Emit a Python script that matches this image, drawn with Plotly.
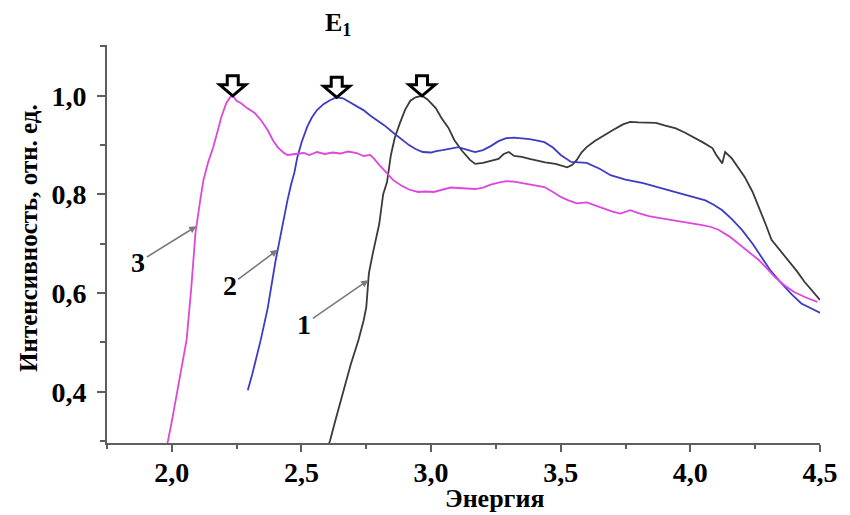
import numpy as np
import plotly.graph_objects as go

# --- spectra: photon energy and normalised intensity ---
e1 = [2.595, 2.61, 2.63, 2.66, 2.69, 2.72, 2.74, 2.75, 2.76, 2.775, 2.80, 2.815, 2.83,
      2.845, 2.86, 2.88, 2.90, 2.92, 2.94, 2.965, 2.985, 3.018, 3.04, 3.067, 3.09, 3.12,
      3.15, 3.17, 3.20, 3.23, 3.26, 3.28, 3.30, 3.32, 3.35, 3.38, 3.41, 3.44, 3.48, 3.525,
      3.545, 3.562, 3.58, 3.60, 3.63, 3.654, 3.70, 3.74, 3.768, 3.80, 3.84, 3.867, 3.90,
      3.944, 3.98, 4.02, 4.05, 4.085, 4.10, 4.123, 4.130, 4.134, 4.16, 4.185, 4.21, 4.24,
      4.264, 4.29, 4.313, 4.345, 4.378, 4.41, 4.44, 4.47, 4.50]
i1 = [0.28, 0.30, 0.34, 0.40, 0.455, 0.505, 0.545, 0.571, 0.64, 0.68, 0.74, 0.80, 0.825,
      0.88, 0.915, 0.945, 0.972, 0.99, 0.997, 1.0, 0.993, 0.975, 0.955, 0.935, 0.91, 0.888,
      0.87, 0.862, 0.864, 0.868, 0.872, 0.882, 0.886, 0.878, 0.876, 0.872, 0.868, 0.865,
      0.862, 0.855, 0.86, 0.870, 0.885, 0.896, 0.908, 0.916, 0.93, 0.942, 0.947, 0.946,
      0.946, 0.945, 0.94, 0.934, 0.925, 0.914, 0.905, 0.894, 0.88, 0.863, 0.880, 0.886,
      0.873, 0.855, 0.835, 0.805, 0.775, 0.74, 0.708, 0.688, 0.667, 0.645, 0.623, 0.605, 0.586]

e2 = [2.293, 2.31, 2.343, 2.37, 2.40, 2.43, 2.446, 2.46, 2.473, 2.484, 2.50, 2.522, 2.54,
      2.56, 2.585, 2.61, 2.636, 2.66, 2.686, 2.71, 2.739, 2.765, 2.789, 2.82, 2.854, 2.885,
      2.915, 2.94, 2.968, 3.00, 3.02, 3.044, 3.07, 3.105, 3.13, 3.17, 3.20, 3.23, 3.26,
      3.29, 3.32, 3.35, 3.38, 3.41, 3.437, 3.47, 3.50, 3.54, 3.57, 3.60, 3.65, 3.692, 3.75,
      3.818, 3.88, 3.944, 4.00, 4.058, 4.09, 4.123, 4.16, 4.199, 4.24, 4.275, 4.31, 4.351,
      4.39, 4.428, 4.47, 4.504]
i2 = [0.403, 0.435, 0.505, 0.57, 0.665, 0.75, 0.788, 0.82, 0.845, 0.875, 0.905, 0.937,
      0.956, 0.971, 0.983, 0.991, 0.997, 0.995, 0.987, 0.98, 0.971, 0.96, 0.951, 0.94,
      0.925, 0.912, 0.900, 0.892, 0.886, 0.885, 0.888, 0.890, 0.893, 0.896, 0.892, 0.886,
      0.89, 0.898, 0.908, 0.914, 0.915, 0.914, 0.912, 0.909, 0.906, 0.895, 0.88, 0.866,
      0.865, 0.864, 0.852, 0.839, 0.83, 0.823, 0.814, 0.805, 0.797, 0.788, 0.779, 0.768,
      0.75, 0.728, 0.70, 0.673, 0.645, 0.620, 0.598, 0.579, 0.568, 0.559]

e3 = [1.975, 1.985, 2.00, 2.03, 2.057, 2.075, 2.091, 2.11, 2.122, 2.14, 2.16, 2.175, 2.191,
      2.21, 2.225, 2.235, 2.25, 2.267, 2.29, 2.32, 2.345, 2.37, 2.39, 2.408, 2.43, 2.446,
      2.48, 2.51, 2.53, 2.56, 2.59, 2.62, 2.65, 2.68, 2.713, 2.74, 2.765, 2.777, 2.80,
      2.825, 2.854, 2.885, 2.915, 2.95, 2.98, 3.01, 3.044, 3.075, 3.105, 3.14, 3.17, 3.20,
      3.23, 3.26, 3.29, 3.32, 3.35, 3.38, 3.41, 3.437, 3.47, 3.50, 3.53, 3.562, 3.60, 3.63,
      3.66, 3.70, 3.73, 3.768, 3.80, 3.84, 3.883, 3.93, 3.98, 4.02, 4.046, 4.08, 4.11,
      4.15, 4.199, 4.23, 4.264, 4.295, 4.325, 4.36, 4.40, 4.45, 4.49]
i3 = [0.28, 0.30, 0.34, 0.43, 0.505, 0.61, 0.721, 0.79, 0.829, 0.865, 0.896, 0.925, 0.957,
      0.985, 0.997, 1.0, 0.99, 0.985, 0.975, 0.965, 0.95, 0.93, 0.91, 0.896, 0.885, 0.880,
      0.882, 0.884, 0.88, 0.886, 0.882, 0.885, 0.883, 0.887, 0.884, 0.878, 0.88, 0.874,
      0.86, 0.845, 0.829, 0.818, 0.81, 0.805, 0.806, 0.805, 0.81, 0.814, 0.813, 0.812,
      0.811, 0.814, 0.82, 0.824, 0.827, 0.826, 0.823, 0.82, 0.818, 0.815, 0.805, 0.795,
      0.788, 0.782, 0.784, 0.778, 0.772, 0.765, 0.761, 0.768, 0.762, 0.756, 0.752, 0.748,
      0.744, 0.741, 0.738, 0.734, 0.728, 0.715, 0.694, 0.68, 0.667, 0.65, 0.633, 0.617,
      0.602, 0.59, 0.582]

curve_names = ["1", "2", "3"]
curve_colors = ["#3a3a3a", "#3c3cc4", "#de46de"]
# energies where each numbered callout meets its curve
callout_E = [2.758, 2.408, 2.095]

x_ticks = [2.0, 2.5, 3.0, 3.5, 4.0, 4.5]
x_tick_text = ["2,0", "2,5", "3,0", "3,5", "4,0", "4,5"]
y_ticks = [0.4, 0.6, 0.8, 1.0]
y_tick_text = ["0,4", "0,6", "0,8", "1,0"]

x_title = "Энергия"
y_title = "Интенсивность, отн. ед."
peak_label = "E<sub>1</sub>"

SERIF = "Liberation Serif, Times New Roman, serif"
AXIS = "#5e5e5e"

series = [(e1, i1), (e2, i2), (e3, i3)]

fig = go.Figure()
for (e, i), name, col in zip(series, curve_names, curve_colors):
    fig.add_trace(go.Scatter(x=e, y=i, mode="lines", name=name,
                             line=dict(color=col, width=1.8), showlegend=False))

# hollow block arrows pointing at each maximum
arrow_path = "M 0,0 L -13,11 L -5.5,11 L -5.5,20 L 5.5,20 L 5.5,11 L 13,11 Z"
for e, i in series:
    k = int(np.argmax(i))
    fig.add_shape(type="path", xref="x", yref="y", xsizemode="pixel", ysizemode="pixel",
                  xanchor=e[k], yanchor=i[k], path=arrow_path,
                  line=dict(color="black", width=3), fillcolor="white")

# numbered callouts with pointer lines
offsets = [(-64, 44), (-48, 36), (-58, 36)]
for (e, i), name, ce, (ax, ay) in zip(series, curve_names, callout_E, offsets):
    fig.add_annotation(x=ce, y=float(np.interp(ce, e, i)), xref="x", yref="y",
                       text=name, showarrow=True, ax=ax, ay=ay,
                       arrowcolor="#7a7a7a", arrowwidth=1.6, arrowhead=2, arrowsize=0.9,
                       font=dict(family=SERIF, size=28, color="black", weight="bold"))

fig.add_annotation(x=2.64, y=1.053, xref="x", yref="paper", text=peak_label,
                   showarrow=False, xanchor="center", yanchor="middle",
                   font=dict(family=SERIF, size=26, color="black", weight="bold"))

fig.add_annotation(x=0.544, y=-0.14, xref="paper", yref="paper", text=x_title,
                   showarrow=False, xanchor="center", yanchor="middle",
                   font=dict(family=SERIF, size=26, color="black", weight="bold"))
fig.add_annotation(x=-0.111, y=0.515, xref="paper", yref="paper", text=y_title,
                   showarrow=False, textangle=-90, xanchor="center", yanchor="middle",
                   font=dict(family=SERIF, size=25, color="black", weight="bold"))

fig.update_xaxes(range=[1.75, 4.5], showgrid=False, zeroline=False,
                 showline=True, linecolor=AXIS, linewidth=2,
                 ticks="outside", ticklen=7, tickwidth=2, tickcolor=AXIS,
                 tickvals=x_ticks, ticktext=x_tick_text, ticklabelstandoff=-4,
                 tickfont=dict(family=SERIF, size=28, color="black", weight="bold"),
                 minor=dict(dtick=0.25, tick0=0, ticks="outside", ticklen=4,
                            tickwidth=2, tickcolor=AXIS))
fig.update_yaxes(range=[0.296, 1.103], showgrid=False, zeroline=False,
                 showline=True, linecolor=AXIS, linewidth=2,
                 ticks="outside", ticklen=8, tickwidth=2, tickcolor=AXIS,
                 tickvals=y_ticks, ticktext=y_tick_text, ticklabelstandoff=5,
                 tickfont=dict(family=SERIF, size=28, color="black", weight="bold"),
                 minor=dict(dtick=0.1, tick0=0, ticks="outside", ticklen=5,
                            tickwidth=2, tickcolor=AXIS))

fig.update_layout(width=850, height=515, margin=dict(l=107, r=21, t=45, b=72),
                  paper_bgcolor="white", plot_bgcolor="white")

fig.write_html("out.html")
